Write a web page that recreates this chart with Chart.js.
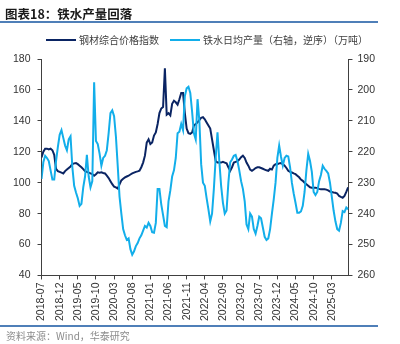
<!DOCTYPE html>
<html>
<head>
<meta charset="utf-8">
<script src="https://cdn.jsdelivr.net/npm/chart.js@4"></script>
<style>
  body { margin: 0; background: #fff; }
  #wrap { position: relative; width: 400px; height: 344px; overflow: hidden; font-family: "Noto Sans CJK SC", sans-serif; }
  #chart { position: absolute; left: 0; top: 0; }
  .title { position: absolute; left: 5px; top: 5px; font-size: 12.5px; font-weight: bold; color: #1a1a1a; line-height: 18px; }
  .rule { position: absolute; left: 0; width: 378px; height: 1.5px; background: #4f7fb8; }
  .legend-item { position: absolute; top: 33px; font-size: 10px; color: #404040; line-height: 14px; white-space: nowrap; }
  .legend-item i { display: inline-block; width: 30px; height: 2px; vertical-align: middle; margin-right: 3px; margin-top: -2px; }
  .source { position: absolute; left: 6px; top: 329px; font-size: 10px; color: #8c8c8c; line-height: 14px; }
</style>
</head>
<body>
<div id="wrap">
  <canvas id="chart" width="400" height="344"></canvas>
  <div class="title">图表18：铁水产量回落</div>
  <div class="rule" style="top:21px"></div>
  <div class="legend-item" style="left:46px"><i style="background:#0a2463"></i>钢材综合价格指数</div>
  <div class="legend-item" style="left:170px"><i style="background:#12aeea"></i>铁水日均产量（右轴，逆序）（万吨）</div>
  <div class="rule" style="top:325px"></div>
  <div class="source">资料来源：Wind，华泰研究</div>
</div>
<script>
// half-month samples starting 2018-07
const startYear = 2018;
const startMonth = 7;

// steel composite price index (left axis)
const priceIndex = [
  116.4, 120, 122, 122, 121.5, 122, 121, 118, 109, 107.5,
  107, 106.5, 106, 107.5, 108.5, 109.5, 110.5, 112, 112.5, 112.7,
  112, 111, 110, 108.8, 107.5, 107, 106.5, 106, 105.5, 104.5,
  105.5, 106.7, 106.5, 106.7, 106.3, 106, 104.5, 103, 101, 99,
  97.5, 97, 96.2, 99, 101.5, 102.5, 103.4, 104, 104.5, 105.3,
  106, 106.5, 107, 107.3, 107.7, 110, 113, 117.5, 126, 128,
  125, 126, 130.5, 132.5, 138, 145, 148, 149, 174, 144,
  145, 143.5, 151, 153, 152, 150.5, 154, 158, 158, 145,
  135, 132, 131.6, 132.5, 137, 138, 139, 140.5, 142, 142.4,
  141, 139, 137, 135, 128, 121, 114, 113, 113, 113,
  113.5, 113, 112.5, 110, 107.7, 110, 113, 113.5, 114, 115,
  116.5, 117.5, 116, 113, 111, 108.5, 107.7, 108.5, 109.5, 110,
  110, 109.5, 109, 108.5, 108, 107.7, 109, 108.5, 111, 112,
  112, 112.5, 112.7, 112, 111, 109.5, 107.7, 107, 106.6, 106,
  105.5, 104.5, 103.5, 102, 101.2, 100, 99, 98, 97, 96.8,
  96.8, 96.8, 96.5, 96, 95.8, 95.8, 95.8, 95.5, 95, 94.2,
  94, 93.7, 93.5, 93, 91.4, 90.8, 90.3, 91.5, 94, 97
];

// daily hot metal output, 10k tonnes (right axis, reversed)
const hotMetal = [
  228.8, 223.4, 221.3, 222, 223, 226, 229, 229, 223, 218.5,
  214.5, 213, 215.5, 218, 219.5, 216, 215, 225, 231, 233.2,
  235, 237.5, 236.8, 231.5, 228, 221, 228, 231.5, 229.5, 197.5,
  216.5, 217.5, 220.6, 224.5, 222, 221.3, 219.5, 214, 207.5, 206.6,
  208.5, 215, 224.5, 234.5, 240, 245, 247, 248.5, 248, 251.5,
  253.3, 252.2, 250.5, 249.5, 248, 247, 245.5, 244, 244.5, 243,
  244, 246, 246.2, 243, 232, 232, 237, 240.5, 244, 244.4,
  236, 232.5, 228, 226, 222, 214, 213.5, 211, 213, 202,
  199.5, 199, 201, 207, 214, 216, 203, 210, 224, 230,
  231, 235, 238.6, 242.5, 240, 232, 222, 213.7, 223, 231,
  236.5, 240, 239, 230, 223.4, 222.5, 221.3, 221, 223, 226,
  229.5, 232, 236, 243.5, 245, 240, 241, 245, 246.5, 244,
  241, 241.5, 244.5, 247.5, 248.5, 248, 245, 240, 235.4, 230,
  222, 218, 221.6, 224.5, 222, 221.3, 221.5, 225, 230, 233.5,
  236.5, 239.7, 239.7, 239.3, 237.5, 233, 226, 220.7, 223, 226.5,
  233, 234, 233, 229.5, 227.5, 224.5, 225.5, 226.2, 227, 230,
  234.5, 239, 242.5, 245, 245.5, 243, 239.2, 239.5, 238, 238.6
];

const leftTicks = [40, 60, 80, 100, 120, 140, 160, 180];
const rightTicks = [190, 200, 210, 220, 230, 240, 250, 260];
const xTickMonths = [0, 5, 10, 15, 20, 25, 30, 35, 40, 45, 50, 55, 60, 65, 70, 75, 80];

// months elapsed since 2018-07 for every sample
const months = priceIndex.map((_, i) => i / 2);

function monthLabel(m) {
  const total = startMonth - 1 + m;
  const y = startYear + Math.floor(total / 12);
  const mm = (total % 12) + 1;
  return y + '-' + String(mm).padStart(2, '0');
}

const tickFont = { family: '"Liberation Sans", Arial, sans-serif', size: 10.5 };
const axisColor = '#404040';

const ctx = document.getElementById('chart').getContext('2d');
new Chart(ctx, {
  type: 'line',
  data: {
    datasets: [{
      label: '钢材综合价格指数',
      data: months.map((m, i) => ({ x: m, y: priceIndex[i] })),
      yAxisID: 'y',
      borderColor: '#0a2463',
      borderWidth: 2,
      pointRadius: 0,
      tension: 0,
      order: 2
    }, {
      label: '铁水日均产量（右轴，逆序）（万吨）',
      data: months.map((m, i) => ({ x: m, y: hotMetal[i] })),
      yAxisID: 'y1',
      borderColor: '#12aeea',
      borderWidth: 2,
      pointRadius: 0,
      tension: 0,
      order: 1
    }]
  },
  options: {
    responsive: false,
    animation: false,
    layout: { padding: { top: 59, left: 6, right: 20, bottom: 20 } },
    plugins: {
      legend: { display: false },
      tooltip: { enabled: false }
    },
    scales: {
      x: {
        type: 'linear',
        min: 0,
        max: 84.6,
        afterBuildTicks: (scale) => {
          scale.ticks = xTickMonths.map(v => ({ value: v }));
        },
        ticks: {
          autoSkip: false,
          minRotation: 90,
          maxRotation: 90,
          padding: 3,
          color: '#333',
          font: tickFont,
          callback: (v) => monthLabel(v)
        },
        grid: { drawOnChartArea: false, tickLength: 4, tickColor: axisColor },
        border: { color: axisColor }
      },
      y: {
        position: 'left',
        min: 40,
        max: 180,
        afterBuildTicks: (scale) => {
          scale.ticks = leftTicks.map(v => ({ value: v }));
        },
        ticks: { padding: 7, color: '#333', font: tickFont },
        grid: { drawOnChartArea: false, tickLength: 4, tickColor: axisColor },
        border: { color: axisColor }
      },
      y1: {
        position: 'right',
        reverse: true,
        min: 190,
        max: 260,
        afterBuildTicks: (scale) => {
          scale.ticks = rightTicks.map(v => ({ value: v }));
        },
        ticks: { padding: 5, color: '#333', font: tickFont },
        grid: { drawOnChartArea: false, tickLength: 4, tickColor: axisColor },
        border: { color: axisColor }
      }
    }
  }
});
</script>
</body>
</html>
